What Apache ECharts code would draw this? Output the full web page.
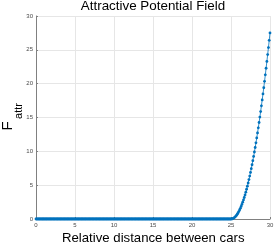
<!DOCTYPE html>
<html>
<head>
<meta charset="utf-8">
<script src="https://cdn.jsdelivr.net/npm/echarts@6/dist/echarts.min.js"></script>
<style>html,body{margin:0;padding:0;background:#fff}#c{width:274px;height:245px}</style>
</head>
<body>
<div id="c"></div>
<script>
var titleText = 'Attractive Potential Field';
var xLabel = 'Relative distance between cars';
var yLabelMain = 'F';
var yLabelSub = 'attr';
var xStart = 0;
var xStep = 0.1;
var xTicks = [0, 5, 10, 15, 20, 25, 30];
var yTicks = [0, 5, 10, 15, 20, 25, 30];
// F_attr values sampled every 0.1 from 0 to 30
var fZero = [
0,0,0,0,0,0,0,0,0,0,0,0,0,0,0,0,0,0,0,0,0,0,0,0,0,0,0,0,0,0,0,0,0,0,0,0,0,0,0,0,0,0,0,0,0,0,0,0,0,0,
0,0,0,0,0,0,0,0,0,0,0,0,0,0,0,0,0,0,0,0,0,0,0,0,0,0,0,0,0,0,0,0,0,0,0,0,0,0,0,0,0,0,0,0,0,0,0,0,0,0,
0,0,0,0,0,0,0,0,0,0,0,0,0,0,0,0,0,0,0,0,0,0,0,0,0,0,0,0,0,0,0,0,0,0,0,0,0,0,0,0,0,0,0,0,0,0,0,0,0,0,
0,0,0,0,0,0,0,0,0,0,0,0,0,0,0,0,0,0,0,0,0,0,0,0,0,0,0,0,0,0,0,0,0,0,0,0,0,0,0,0,0,0,0,0,0,0,0,0,0,0,
0,0,0,0,0,0,0,0,0,0,0,0,0,0,0,0,0,0,0,0,0,0,0,0,0,0,0,0,0,0,0,0,0,0,0,0,0,0,0,0,0,0,0,0,0,0,0,0,0,0,
0
];
var fRise = [
0.01,0.04,0.1,0.18,0.28,0.4,0.54,0.7,0.89,1.1,
1.33,1.58,1.86,2.16,2.48,2.82,3.18,3.56,3.97,4.4,
4.85,5.32,5.82,6.34,6.88,7.44,8.02,8.62,9.25,9.9,
10.57,11.26,11.98,12.72,13.48,14.26,15.06,15.88,16.73,17.6,
18.49,19.4,20.34,21.3,22.28,23.28,24.3,25.34,26.41,27.5
];
var fVals = fZero.concat(fRise);
var points = fVals.map(function (v, i) { return [+(xStart + i * xStep).toFixed(1), v]; });

var chart = echarts.init(document.getElementById('c'), null, {renderer: 'canvas'});
var tickFont = {fontFamily: 'Liberation Sans', fontSize: 6, color: '#4a4a4a'};
chart.setOption({
  animation: false,
  backgroundColor: '#fff',
  title: {
    text: titleText, left: 153, textAlign: 'center', top: 0, padding: 0,
    textStyle: {fontFamily: 'Liberation Sans', fontSize: 13.4, fontWeight: 'normal', color: '#000'}
  },
  grid: {left: 36, right: 4, top: 16, bottom: 26, containLabel: false, outerBoundsMode: 'none'},
  xAxis: {
    type: 'value', min: xTicks[0], max: xTicks[xTicks.length - 1], interval: 5,
    axisLine: {show: true, lineStyle: {color: '#808080', width: 1}},
    axisTick: {show: true, inside: true, length: 2, lineStyle: {color: '#808080'}},
    axisLabel: Object.assign({margin: 3}, tickFont),
    splitLine: {show: true, lineStyle: {color: '#e6e6e6', width: 1}}
  },
  yAxis: {
    type: 'value', min: yTicks[0], max: yTicks[yTicks.length - 1], interval: 5,
    axisLine: {show: true, lineStyle: {color: '#808080', width: 1}},
    axisTick: {show: true, inside: true, length: 2, lineStyle: {color: '#808080'}},
    axisLabel: Object.assign({margin: 3}, tickFont),
    splitLine: {show: true, lineStyle: {color: '#e6e6e6', width: 1}}
  },
  graphic: [
    {type: 'text', left: 62, top: 232, style: {text: xLabel, fontFamily: 'Liberation Sans', fontSize: 13.2, fill: '#000'}},
    {type: 'text', x: 15, y: 126, rotation: Math.PI / 2, style: {text: yLabelMain, fontFamily: 'Liberation Sans', fontSize: 15, fill: '#000', align: 'center', verticalAlign: 'bottom'}},
    {type: 'text', x: 24.5, y: 111, rotation: Math.PI / 2, style: {text: yLabelSub, fontFamily: 'Liberation Sans', fontSize: 11, fill: '#000', align: 'center', verticalAlign: 'bottom'}}
  ],
  series: [{
    type: 'line', data: points, showSymbol: true, showAllSymbol: true,
    symbol: 'circle', symbolSize: 2.8,
    itemStyle: {color: '#0072BD'},
    lineStyle: {color: '#0072BD', width: 0.8},
    silent: true
  }]
});
</script>
</body>
</html>
